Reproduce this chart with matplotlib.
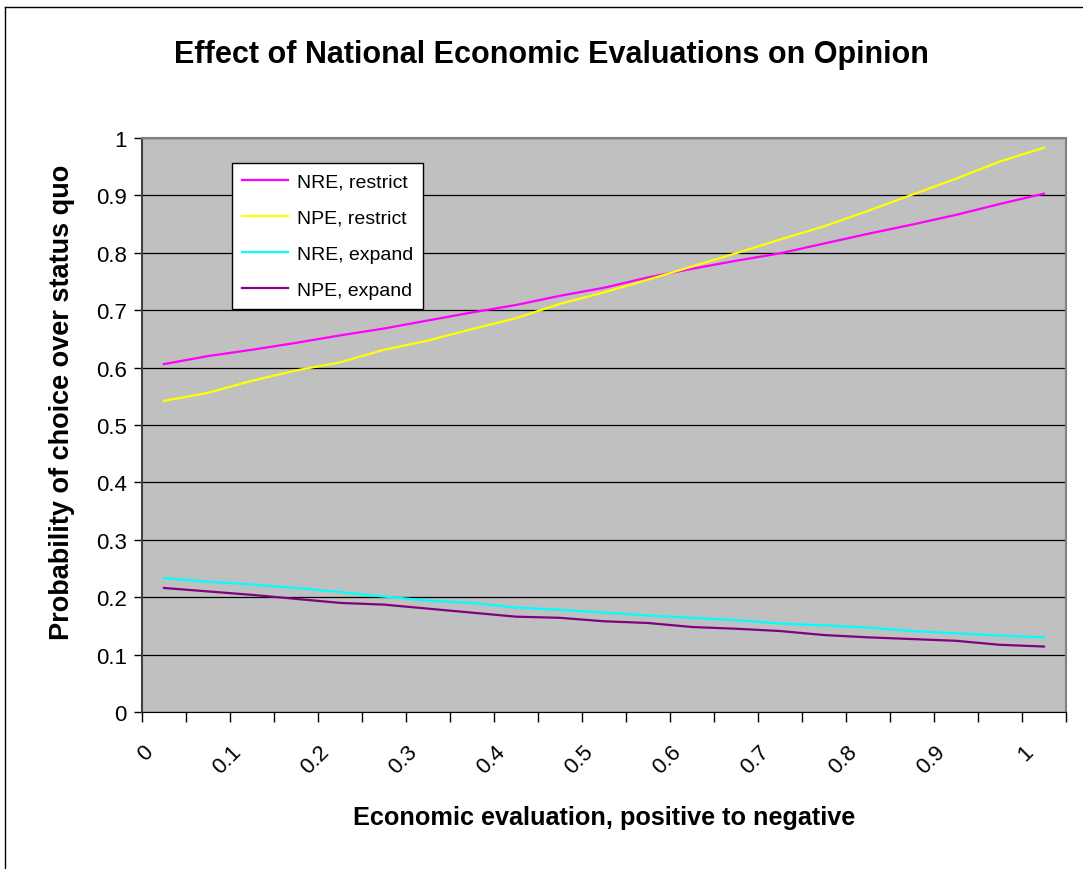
import matplotlib
matplotlib.use('Agg')
import matplotlib.pyplot as plt
import matplotlib.transforms as mtransforms
from matplotlib.lines import Line2D
import numpy as np

plt.rcParams['font.family'] = ['Liberation Sans', 'DejaVu Sans']

# economic evaluation categories (0 .. 1 in steps of 0.05)
categories = [0.0, 0.05, 0.1, 0.15, 0.2, 0.25, 0.3, 0.35, 0.4, 0.45, 0.5,
              0.55, 0.6, 0.65, 0.7, 0.75, 0.8, 0.85, 0.9, 0.95, 1.0]
tick_labels = ['0', '0.1', '0.2', '0.3', '0.4', '0.5', '0.6', '0.7', '0.8', '0.9', '1']

nre_restrict = [0.606, 0.620, 0.631, 0.643, 0.656, 0.668, 0.682, 0.696, 0.709, 0.725, 0.739,
                0.757, 0.772, 0.786, 0.799, 0.816, 0.833, 0.849, 0.866, 0.885, 0.903]
npe_restrict = [0.542, 0.556, 0.577, 0.595, 0.609, 0.631, 0.647, 0.667, 0.686, 0.711, 0.731,
                0.753, 0.776, 0.799, 0.823, 0.846, 0.873, 0.901, 0.929, 0.959, 0.983]
nre_expand = [0.233, 0.227, 0.222, 0.216, 0.209, 0.201, 0.194, 0.190, 0.182, 0.178, 0.173,
              0.168, 0.164, 0.160, 0.154, 0.151, 0.147, 0.141, 0.137, 0.133, 0.130]
npe_expand = [0.216, 0.210, 0.204, 0.197, 0.190, 0.187, 0.180, 0.173, 0.166, 0.164, 0.158,
              0.155, 0.148, 0.145, 0.141, 0.134, 0.130, 0.127, 0.124, 0.117, 0.114]

fig = plt.figure(figsize=(10.83, 8.7), dpi=100)
ax = fig.add_axes([0.1311, 0.1805, 0.8532, 0.6598])
ax.set_facecolor('#C0C0C0')

x = np.array(categories)
ax.plot(x, nre_restrict, color='#FF00FF', lw=1.6, label='NRE, restrict')
ax.plot(x, npe_restrict, color='#FFFF00', lw=1.6, label='NPE, restrict')
ax.plot(x, nre_expand, color='#00FFFF', lw=1.6, label='NRE, expand')
ax.plot(x, npe_expand, color='#800080', lw=1.6, label='NPE, expand')

# y axis
ax.set_ylim(0, 1)
ax.set_yticks(np.arange(0, 1.01, 0.1))
ax.set_yticklabels(['0', '0.1', '0.2', '0.3', '0.4', '0.5', '0.6', '0.7', '0.8', '0.9', '1'])
ax.yaxis.grid(True, color='black', lw=0.9)
ax.set_axisbelow(True)
ax.tick_params(axis='y', length=6, width=1, labelsize=16, pad=5)

# x axis: category slots, tick marks between categories, labels every other one
ax.set_xlim(-0.025, 1.025)
ax.set_xticks(np.arange(0, 1.01, 0.1))
ax.set_xticklabels(tick_labels, rotation=45, ha='right', va='center', rotation_mode='anchor')
ax.set_xticks(np.arange(-0.025, 1.03, 0.05), minor=True)
ax.tick_params(axis='x', which='major', length=0, labelsize=16, pad=26)
ax.tick_params(axis='x', which='minor', length=7, width=1)
shift = mtransforms.ScaledTranslation(-0.14, 0, fig.dpi_scale_trans)
for lab in ax.get_xticklabels():
    lab.set_transform(lab.get_transform() + shift)

for s in ['top', 'right']:
    ax.spines[s].set_color('#808080')
    ax.spines[s].set_linewidth(1.5)
ax.spines['left'].set_color('#404040')
ax.spines['left'].set_linewidth(1.5)
ax.spines['bottom'].set_color('black')

ax.set_ylabel('Probability of choice over status quo', fontsize=19.5, fontweight='bold', va='center')
ax.yaxis.set_label_coords(-0.087, 0.541)
ax.set_xlabel('Economic evaluation, positive to negative', fontsize=18.2, fontweight='bold', va='center')
ax.xaxis.set_label_coords(0.5, -0.183)

fig.text(0.509, 0.937, 'Effect of National Economic Evaluations on Opinion',
         ha='center', va='center', fontsize=22, fontweight='bold')

leg = ax.legend(loc='upper left', bbox_to_anchor=(0.0974, 0.956), borderaxespad=0,
                fontsize=14, frameon=True, fancybox=False, edgecolor='black', framealpha=1,
                handlelength=2.4, labelspacing=0.95, borderpad=0.5, handletextpad=0.45)
leg.get_frame().set_linewidth(1.0)

# outer chart border (left and top edges visible)
fig.add_artist(Line2D([5 / 1083, 5 / 1083], [0, 1 - 8 / 870], color='black', lw=1))
fig.add_artist(Line2D([5 / 1083, 1], [1 - 8 / 870, 1 - 8 / 870], color='black', lw=1))

fig.savefig('out.png', dpi=100)
